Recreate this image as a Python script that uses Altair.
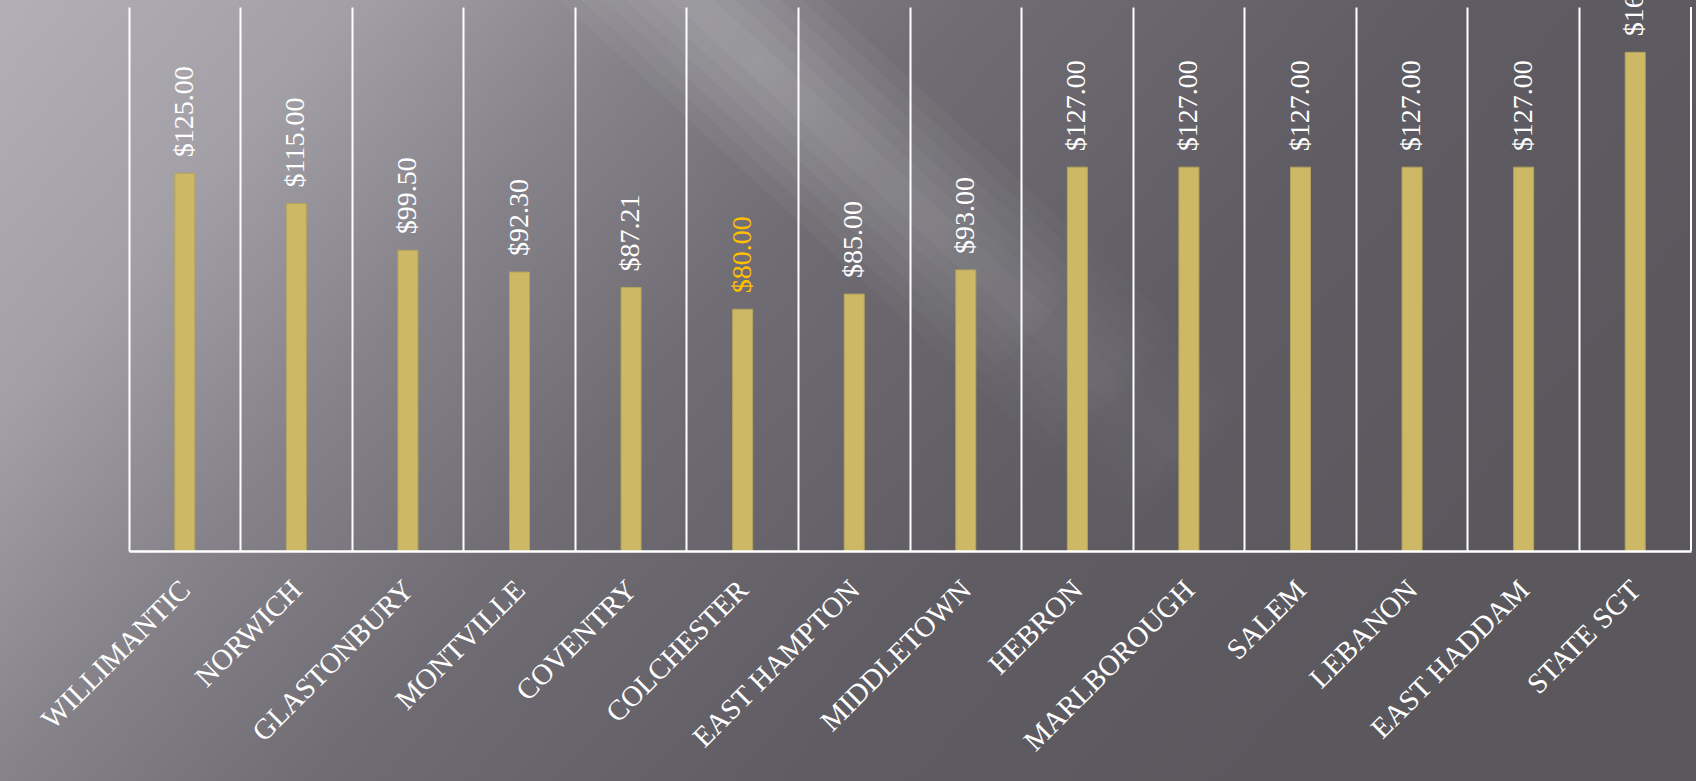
import math
import altair as alt
import pandas as pd

towns = ["WILLIMANTIC", "NORWICH", "GLASTONBURY", "MONTVILLE", "COVENTRY",
         "COLCHESTER", "EAST HAMPTON", "MIDDLETOWN", "HEBRON", "MARLBOROUGH",
         "SALEM", "LEBANON", "EAST HADDAM", "STATE SGT"]
prices = [125.00, 115.00, 99.50, 92.30, 87.21, 80.00, 85.00, 93.00,
          127.00, 127.00, 127.00, 127.00, 127.00, 165.00]
highlight_town = "COLCHESTER"

df = pd.DataFrame({"town": towns, "price": prices})
one = pd.DataFrame({"k": [0]})

W, H = 1562, 544
PAD_L, PAD_T, PAD_R, PAD_B = 129, 7, 5, 230
CW, CH = PAD_L + W + PAD_R, PAD_T + H + PAD_B


def diag_gradient(top, bottom, direction, origin, span, stops):
    """Linear gradient for a full-width rect spanning canvas rows top..bottom.
    Iso-lines run along `direction` (pixels); t=0 passes through `origin`
    and t=1 lies `span` pixels away along the normal."""
    w, h = CW, bottom - top
    sx, sy = direction
    gx, gy = sy / h, -sx / w
    norm = math.hypot(sx, sy)
    nx, ny = sy / norm, -sx / norm
    px_per_unit = gx * w * nx + gy * h * ny
    k = span / px_per_unit
    gx, gy = gx * k, gy * k
    ox, oy = origin[0] / w, (origin[1] - top) / h
    return {
        "gradient": "linear",
        "x1": ox, "y1": oy, "x2": ox + gx, "y2": oy + gy,
        "stops": [{"offset": o, "color": c} for o, c in stops],
    }


# base: light at top-left, dark toward the right
base = alt.Chart(one).mark_rect(color=diag_gradient(
    0, CH, (-0.648, 0.762), (0, 0), 1490,
    [(0.0, "#b2b0b6"), (0.18, "#a2a0a6"), (0.34, "#858389"),
     (0.50, "#6f6d73"), (0.74, "#5f5d63"), (1.0, "#5a585d")],
)).encode(
    x=alt.value(-PAD_L), x2=alt.value(CW - PAD_L),
    y=alt.value(-PAD_T), y2=alt.value(CH - PAD_T),
)

# soft light diagonal streak: stacked rotated bands, each fading along its length
STREAK_CX, STREAK_CY = 760, 63
STREAK_ANGLE = 42.8
STREAK_HALF_LEN = 620
STREAK_HALF_WIDTHS = [90, 75, 60, 45, 30, 15]
a = 0.045
streak_grad = {
    "gradient": "radial",
    "x1": 0.5, "y1": 0.5, "r1": 0, "x2": 0.5, "y2": 0.5, "r2": 0.5,
    "stops": [
        {"offset": 0.0, "color": f"rgba(255,255,255,{a})"},
        {"offset": 0.4, "color": f"rgba(255,255,255,{a * 0.65:.4f})"},
        {"offset": 0.75, "color": f"rgba(255,255,255,{a * 0.25:.4f})"},
        {"offset": 1.0, "color": "rgba(255,255,255,0)"},
    ],
}
streaks = []
for hw in STREAK_HALF_WIDTHS:
    u = hw / STREAK_HALF_LEN
    streaks.append(alt.Chart(one).mark_point(
        shape=f"M-1,-{u:.4f}L1,-{u:.4f}L1,{u:.4f}L-1,{u:.4f}Z",
        filled=True, opacity=1, strokeWidth=0,
        color=streak_grad,
        angle=STREAK_ANGLE,
        size=(2 * STREAK_HALF_LEN) ** 2,
    ).encode(
        x=alt.value(STREAK_CX - PAD_L), y=alt.value(STREAK_CY - PAD_T),
    ))

x_enc = alt.X(
    "town:N", sort=towns, title=None,
    scale=alt.Scale(paddingInner=0, paddingOuter=0),
    axis=alt.Axis(
        grid=True, gridColor="white", gridWidth=2, gridOpacity=1,
        bandPosition=0, ticks=False,
        domainColor="white", domainWidth=2.5,
        labelAngle=-45, labelAlign="right", labelBaseline="top",
        labelPadding=24, labelOffset=-9,
        labelFont="Liberation Serif", labelFontSize=29, labelColor="white",
        labelLimit=400, zindex=1,
    ),
)
y_enc = alt.Y("price:Q", axis=None, scale=alt.Scale(domain=[0, 180], nice=False))

bars = alt.Chart(df).mark_bar(size=20, color="#cdb965", stroke="#b3a35c", strokeWidth=1).encode(
    x=x_enc, y=y_enc
)

labels = alt.Chart(df).mark_text(
    angle=270, align="left", baseline="middle", dx=16,
    font="Liberation Serif", fontSize=28,
).encode(
    x=alt.X("town:N", sort=towns),
    y="price:Q",
    text=alt.Text("price:Q", format="$.2f"),
    color=alt.condition(alt.datum.town == highlight_town, alt.value("#ffc000"), alt.value("white")),
)

right_edge = alt.Chart(one).mark_rule(color="white", strokeWidth=2).encode(
    x=alt.value(W), y=alt.value(0), y2=alt.value(H)
)

chart = alt.layer(base, *streaks, bars, labels, right_edge).properties(
    width=W, height=H,
    autosize=alt.AutoSizeParams(type="none"),
    padding={"left": PAD_L, "top": PAD_T, "right": PAD_R, "bottom": PAD_B},
    background="#78767c",
).configure_view(stroke=None)

chart.save("out.html", embed_options={"renderer": "svg", "actions": False})
